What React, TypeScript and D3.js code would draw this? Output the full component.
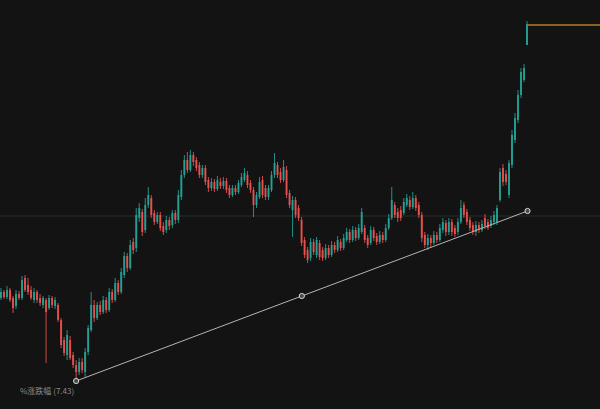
import React from "react";
import * as d3 from "d3";

// Daily candles: open, high, low, close
const opens = [
  20.2, 20.8, 20.3, 21.0, 20.2, 19.4, 20.6, 20.2, 22.2, 21.5, 21.0, 20.0, 20.8, 20.2, 19.5, 20.0,
  19.2, 20.2, 19.4, 19.5, 18.0, 16.0, 14.5, 16.0, 14.5, 13.5, 12.8, 13.8, 12.8, 14.8, 17.0, 19.5,
  18.2, 19.5, 18.8, 20.0, 19.0, 20.8, 20.0, 21.7, 20.8, 22.5, 24.4, 23.2, 25.8, 25.2, 28.2, 28.8,
  27.0, 29.5, 30.2, 28.7, 27.8, 28.5, 27.4, 27.0, 28.0, 27.5, 28.7, 28.0, 30.3, 32.5, 34.0, 33.0,
  34.5, 34.0, 33.5, 32.5, 33.2, 32.0, 31.2, 31.8, 31.1, 31.8, 31.4, 31.9, 31.2, 30.5, 31.2, 30.8,
  31.5, 32.0, 32.5, 31.7, 31.0, 29.5, 30.3, 32.0, 31.2, 30.3, 31.0, 32.5, 33.5, 32.8, 32.0, 33.0,
  30.7, 29.0, 30.0, 29.2, 28.0, 26.0, 25.0, 24.2, 25.8, 24.5, 25.7, 25.0, 24.2, 25.2, 24.5, 25.5,
  25.0, 25.8, 25.2, 26.0, 26.8, 26.0, 27.0, 26.2, 26.8, 27.2, 26.2, 25.7, 27.0, 26.4, 25.8, 26.5,
  26.0, 27.2, 28.2, 29.5, 28.8, 29.0, 28.7, 29.5, 30.0, 29.3, 30.2, 29.5, 28.5, 26.5, 25.5, 26.2,
  25.7, 26.5, 26.0, 27.0, 27.7, 26.8, 27.8, 27.2, 26.8, 27.8, 29.5, 28.8, 28.0, 27.5, 26.8, 27.5,
  27.0, 28.2, 27.8, 27.4, 27.8, 27.8, 30.0, 33.2, 32.6, 30.5, 33.5, 36.0, 38.0, 40.5, 42.0, 45.5,
];
const highs = [
  21.2, 21.0, 21.4, 21.2, 20.4, 21.0, 20.9, 22.4, 22.5, 22.2, 21.4, 21.2, 21.0, 20.6, 20.4, 20.2,
  20.5, 20.4, 20.3, 19.7, 18.2, 16.3, 17.0, 16.4, 14.8, 14.0, 14.2, 14.2, 15.2, 17.5, 20.8, 20.0,
  19.8, 19.9, 20.4, 20.3, 21.2, 21.1, 22.2, 22.0, 23.2, 24.8, 24.7, 26.0, 26.2, 29.2, 29.7, 29.1,
  30.2, 31.3, 30.5, 29.0, 28.8, 28.8, 27.8, 28.4, 28.3, 29.0, 29.0, 31.0, 33.0, 34.5, 34.8, 35.0,
  34.8, 34.3, 33.8, 33.5, 33.5, 32.3, 32.2, 32.1, 32.4, 32.2, 32.3, 32.2, 31.5, 31.5, 31.5, 32.0,
  32.7, 33.2, 32.9, 32.0, 31.3, 30.8, 32.3, 32.4, 31.5, 31.5, 32.9, 34.7, 33.8, 33.2, 34.0, 33.4,
  31.0, 30.4, 30.3, 29.5, 28.3, 26.3, 25.3, 26.2, 26.1, 26.3, 26.0, 25.3, 25.6, 25.5, 25.9, 25.8,
  26.4, 26.1, 26.6, 27.2, 27.1, 27.4, 27.3, 27.6, 29.2, 27.5, 26.5, 27.4, 27.3, 26.7, 26.9, 26.8,
  27.6, 28.6, 31.3, 29.8, 29.2, 29.4, 30.2, 30.6, 30.4, 30.8, 30.5, 29.8, 28.8, 26.8, 26.6, 26.5,
  26.9, 26.8, 27.6, 28.2, 28.0, 28.2, 28.1, 27.5, 28.2, 30.0, 29.8, 29.1, 28.3, 27.8, 27.9, 27.8,
  28.0, 28.6, 28.1, 28.4, 28.9, 29.5, 33.2, 33.6, 33.0, 34.0, 37.0, 38.7, 41.0, 43.2, 43.6, 47.9,
];
const lows = [
  20.0, 20.1, 20.1, 19.8, 18.7, 19.1, 20.0, 20.0, 20.8, 20.5, 20.0, 19.7, 19.7, 19.4, 19.2, 13.7,
  19.0, 19.2, 19.1, 17.8, 15.2, 14.4, 14.0, 14.0, 13.2, 11.9, 12.5, 12.7, 12.3, 14.5, 16.8, 17.8,
  18.0, 18.5, 18.6, 18.7, 18.8, 19.7, 19.8, 20.5, 20.6, 22.2, 22.8, 23.0, 24.6, 24.8, 27.8, 26.4,
  26.7, 29.2, 28.2, 27.5, 27.6, 26.9, 26.5, 26.7, 27.0, 27.2, 27.6, 27.7, 30.0, 32.2, 32.7, 32.8,
  33.4, 32.9, 32.2, 32.2, 31.5, 30.8, 30.9, 30.8, 30.9, 31.1, 31.1, 30.7, 30.2, 30.3, 30.5, 30.6,
  31.3, 31.8, 31.2, 30.7, 28.3, 29.2, 30.1, 30.2, 30.0, 30.0, 30.8, 32.2, 32.2, 31.7, 31.8, 30.2,
  29.2, 26.3, 28.2, 27.9, 25.4, 24.2, 23.7, 23.9, 24.5, 24.2, 24.0, 23.9, 24.0, 24.2, 24.3, 24.7,
  24.8, 24.9, 25.0, 25.8, 25.7, 25.8, 25.9, 26.0, 26.6, 25.7, 25.2, 25.5, 25.9, 25.5, 25.6, 25.7,
  25.8, 27.0, 28.0, 28.2, 27.8, 27.9, 28.5, 29.3, 29.0, 29.1, 28.9, 28.2, 25.8, 25.2, 25.0, 25.3,
  25.5, 25.7, 25.8, 26.7, 26.4, 26.5, 26.4, 26.3, 26.5, 27.6, 28.2, 27.5, 26.9, 26.5, 26.4, 26.7,
  26.8, 27.1, 27.0, 27.2, 27.5, 27.5, 29.8, 31.4, 31.5, 30.2, 33.2, 35.7, 37.7, 40.2, 41.8, 45.5,
];
const closes = [
  20.8, 20.3, 21.0, 20.0, 19.2, 20.6, 20.2, 22.0, 21.0, 20.8, 20.2, 20.8, 20.0, 19.7, 20.2, 18.8,
  20.2, 19.5, 20.0, 18.0, 15.5, 14.7, 16.5, 14.2, 13.5, 12.8, 13.8, 13.0, 14.8, 17.2, 19.5, 18.2,
  19.5, 18.8, 20.0, 19.0, 20.8, 20.0, 21.7, 20.8, 22.8, 24.4, 23.2, 25.5, 25.0, 28.5, 29.2, 26.8,
  29.5, 30.5, 28.5, 27.8, 28.5, 27.2, 26.8, 28.0, 27.4, 28.7, 28.0, 30.5, 32.5, 34.0, 33.0, 34.5,
  33.8, 33.2, 32.5, 33.2, 31.8, 31.2, 31.8, 31.1, 32.0, 31.4, 31.9, 31.0, 30.5, 31.2, 30.8, 31.7,
  32.3, 32.7, 31.5, 31.0, 29.5, 30.5, 31.8, 30.5, 30.3, 31.2, 32.5, 33.7, 32.5, 32.0, 33.3, 30.5,
  29.5, 30.0, 28.5, 28.2, 25.7, 24.5, 24.0, 25.8, 24.8, 26.0, 24.3, 24.2, 25.2, 24.5, 25.5, 25.0,
  26.0, 25.2, 26.2, 26.8, 26.0, 27.0, 26.2, 27.2, 28.8, 26.0, 25.5, 27.0, 26.2, 25.8, 26.5, 26.0,
  27.2, 28.2, 30.0, 28.5, 28.2, 28.2, 29.8, 30.2, 29.3, 30.2, 29.2, 28.5, 26.2, 25.5, 26.2, 25.7,
  26.5, 26.0, 27.2, 27.8, 26.8, 27.8, 26.8, 26.6, 27.8, 29.2, 28.5, 27.8, 27.2, 26.8, 27.5, 27.0,
  27.6, 27.4, 27.2, 28.0, 28.5, 29.2, 32.8, 31.8, 31.8, 33.7, 36.5, 38.2, 40.5, 42.8, 43.2, 47.6,
];

// Support trend line anchors (candle index, price) and reference levels
const trendStart = [25, 11.9];
const trendEnd = [175, 28.9];
const baseLevel = 28.4;
const lastLevel = 47.5;
const trendLabel = "%涨跌幅";
const trendValue = "(7.43)";

const W = 600;
const H = 409;
const BG = "#131313";
const UP = "#26a69a";
const DOWN = "#ef5350";

export default function App() {
  const n = closes.length;
  const x = d3
    .scaleBand<number>()
    .domain(d3.range(n))
    .range([0, 528])
    .paddingInner(0.35);
  const y = d3.scaleLinear().domain([9.1, 50.0]).range([H, 0]);
  const cx = (i: number) => (x(i) as number) + x.bandwidth() / 2;

  const candles = d3.range(n).map((i) => ({
    i,
    o: opens[i],
    h: highs[i],
    l: lows[i],
    c: closes[i],
  }));

  const tx1 = cx(trendStart[0]);
  const ty1 = y(trendStart[1]);
  const tx2 = cx(trendEnd[0]) + 0.5;
  const ty2 = y(trendEnd[1]);
  const tmx = (tx1 + tx2) / 2;
  const tmy = (ty1 + ty2) / 2;

  return (
    <svg
      width={W}
      height={H}
      style={{ position: "fixed", left: 0, top: 0, display: "block", background: BG }}
    >
      <rect width={W} height={H} fill={BG} />
      <line x1={0} x2={W} y1={y(baseLevel)} y2={y(baseLevel)} stroke="#2c2c2c" strokeWidth={1} />
      <g>
        {candles.map((d) => {
          const col = d.c >= d.o ? UP : DOWN;
          const top = y(Math.max(d.o, d.c));
          const bot = y(Math.min(d.o, d.c));
          return (
            <g key={d.i}>
              <line
                x1={cx(d.i)}
                x2={cx(d.i)}
                y1={y(d.h)}
                y2={y(d.l)}
                stroke={col}
                strokeWidth={1}
                opacity={0.85}
              />
              <rect
                x={x(d.i) as number}
                y={top}
                width={x.bandwidth()}
                height={Math.max(1, bot - top)}
                fill={col}
                opacity={0.88}
              />
            </g>
          );
        })}
      </g>
      <line
        x1={cx(n - 1) + 1}
        x2={W}
        y1={y(lastLevel)}
        y2={y(lastLevel)}
        stroke="#b87a22"
        strokeWidth={1.5}
      />
      <line x1={tx1} y1={ty1} x2={tx2} y2={ty2} stroke="#b5b5b5" strokeWidth={1} />
      {[
        [tx1, ty1],
        [tmx, tmy],
        [tx2, ty2],
      ].map(([px, py], k) => (
        <circle key={k} cx={px} cy={py} r={2.6} fill="#4a4a4a" stroke="#d8d8d8" strokeWidth={1} />
      ))}
      <text
        x={20}
        y={y(trendStart[1]) + 13}
        fill="#8c8c8c"
        fontSize={8}
        fontFamily="'Noto Sans CJK SC', 'DejaVu Sans', sans-serif"
      >
        {trendLabel} {trendValue}
      </text>
    </svg>
  );
}
